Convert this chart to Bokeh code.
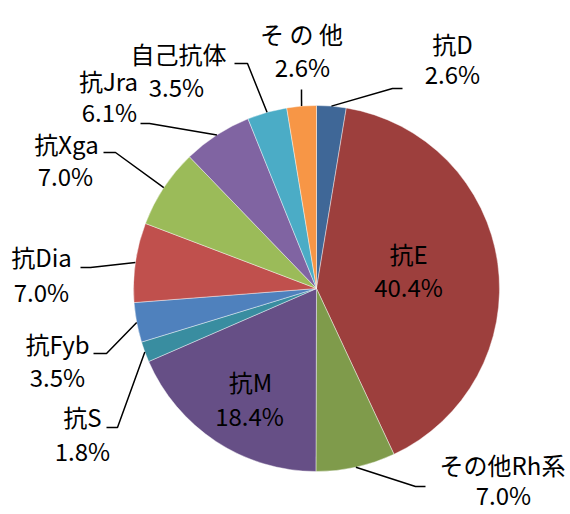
import numpy as np
from bokeh.plotting import figure
from bokeh.models import Range1d, ColumnDataSource
from bokeh.core.properties import value
from bokeh.embed import file_html
from bokeh.resources import INLINE

# ---- data ----
categories = ["抗D", "抗E", "その他Rh系", "抗M", "抗S", "抗Fyb", "抗Dia", "抗Xga", "抗Jra", "自己抗体", "そ の 他"]
percent = [2.6, 40.4, 7.0, 18.4, 1.8, 3.5, 7.0, 7.0, 6.1, 3.5, 2.6]
pct_labels = ["2.6%", "40.4%", "7.0%", "18.4%", "1.8%", "3.5%", "7.0%", "7.0%", "6.1%", "3.5%", "2.6%"]
colors = ["#3F6797", "#9D3F3D", "#7F9B4B", "#664F86", "#398DA0", "#4F81BD",
          "#C0504D", "#9BBB59", "#8064A2", "#4BACC6", "#F79646"]

# ---- layout (screen pixels in the picture) ----
W, H = 570, 514
CX, CY, R = 316, 288, 183
name_pos = [(452, 43), (408, 253), (502, 464), (250, 381), (82, 416), (57, 343),
            (41, 256), (66, 143), (108, 80), (178, 53), (301, 33)]
pct_pos = [(452, 73), (408, 286), (503, 494), (249, 415), (82, 450), (57, 376),
           (41, 291), (65, 175), (109, 111), (176, 86), (302, 66)]
# leader elbows / ends (None = no leader)
leaders = [((392, 88), (402, 88)), None, ((415, 486), (425, 486)), None,
           ((117, 427), (106, 427)), ((106, 353), (93, 353)), ((90, 267), (80, 267)),
           ((115, 152), (103, 152)), ((149, 123), (140, 123)), ((247, 63), (234, 63)),
           ((301, 89), (301, 89))]


def Y(s):
    return H - s


p = figure(width=W, height=H, x_range=Range1d(0, W), y_range=Range1d(0, H),
           output_backend="svg", toolbar_location=None, min_border=0)
p.axis.visible = False
p.grid.visible = False
p.outline_line_color = None
p.background_fill_color = "white"
p.border_fill_color = "white"

vals = np.array(percent, dtype=float)
total = vals.sum()
cum = np.concatenate([[0], np.cumsum(vals)])
start = np.pi / 2 - 2 * np.pi * cum[:-1] / total
end = np.pi / 2 - 2 * np.pi * cum[1:] / total
mid = (start + end) / 2

src = ColumnDataSource(dict(start=start, end=end, color=colors))
p.wedge(x=CX, y=Y(CY), radius=R, start_angle="start", end_angle="end", direction="clock",
        fill_color="color", line_color="white", line_width=0.6, line_alpha=0.7, source=src)

xs, ys = [], []
for i, ld in enumerate(leaders):
    if ld is None:
        continue
    ex = CX + R * np.cos(mid[i])
    ey = Y(CY) + R * np.sin(mid[i])
    (bx, by), (tx, ty) = ld
    xs.append([ex, bx, tx])
    ys.append([ey, Y(by), Y(ty)])
p.multi_line(xs=xs, ys=ys, line_color="black", line_width=1.5)

font = value("Noto Sans CJK JP")
p.text(x=[q[0] for q in name_pos], y=[Y(q[1]) for q in name_pos], text=categories,
       text_align="center", text_baseline="middle", text_font=font,
       text_font_size="24px", text_color="black")
p.text(x=[q[0] for q in pct_pos], y=[Y(q[1]) for q in pct_pos], text=pct_labels,
       text_align="center", text_baseline="middle", text_font=font,
       text_font_size="24px", text_color="black")

open("out.html", "w").write(file_html(p, INLINE))
